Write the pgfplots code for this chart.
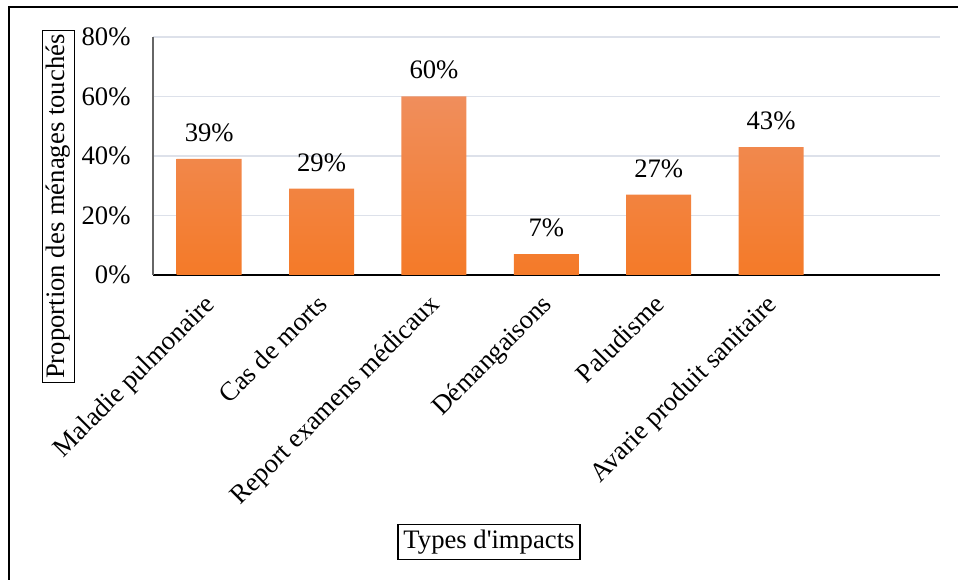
\documentclass[border=0pt]{standalone}
\usepackage{pgfplots}
\pgfplotsset{compat=1.18}
\usepackage{fontspec}
\setmainfont{Liberation Serif}[Ligatures=TeXOff]
\definecolor{bartop}{HTML}{F08E5C}
\definecolor{barbot}{HTML}{F47A28}
\definecolor{gridc}{HTML}{DDE1EA}
\begin{document}
\fontsize{20}{23}\selectfont
\begin{tikzpicture}
\useasboundingbox (0,0) rectangle (718.5pt,435pt);
\clip (0,0) rectangle (718.5pt,435pt);
\draw[line width=2pt] (6.75pt,429.75pt) rectangle (740pt,-20pt);
\begin{axis}[
  at={(114.75pt,228.75pt)}, anchor=south west, scale only axis,
  width=590pt, height=178.5pt,
  xmin=-0.5, xmax=6.5, ymin=0, ymax=80,
  /pgf/number format/assume math mode=true,
  ytick={0,20,40,60,80},
  yticklabel={\pgfmathprintnumber{\tick}\%},
  yticklabel style={xshift=-10pt},
  xtick={0,1,2,3,4,5},
  xticklabels={Maladie pulmonaire, Cas de morts, Report examens médicaux, Démangaisons, Paludisme, Avarie produit sanitaire},
  xticklabel style={xshift=-4.7pt, yshift=-3.5pt, rotate=45, anchor=north east},
  axis x line=bottom, axis y line=left,
  x axis line style={-, black, line width=1pt},
  y axis line style={-, black!60, line width=0.8pt},
  ymajorgrids, grid style={gridc, line width=1pt},
  major tick length=0pt,
  ybar, bar width=48.75pt,
  nodes near coords={\pgfmathprintnumber{\pgfplotspointmeta}\%},
  nodes near coords style={yshift=6pt, black},
]
\addplot[draw=none, top color=bartop, bottom color=barbot] coordinates {(0,39) (1,29) (2,60) (3,7) (4,27) (5,43)};
\end{axis}
\node[draw, line width=0.8pt, rotate=90, inner sep=3pt] at (43.9pt,280pt) {Proportion des ménages touchés};
\node[draw, line width=1pt, inner sep=4pt] at (366.75pt,28.5pt) {Types d'impacts};
\end{tikzpicture}
\end{document}
